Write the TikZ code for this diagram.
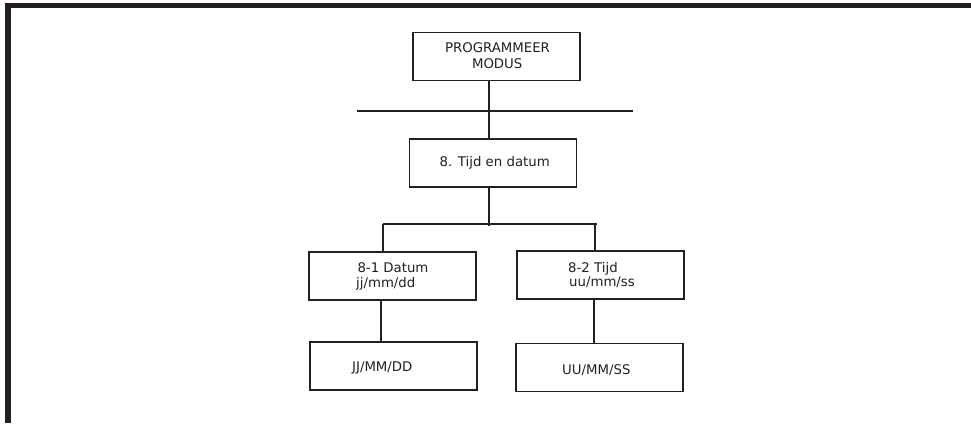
\documentclass[tikz,border=0pt]{standalone}
\usepackage{fontspec}
\setmainfont{DejaVu Sans}
\definecolor{ink}{RGB}{35,31,32}
\begin{document}
\begin{tikzpicture}[x=1pt,y=-1pt,
  every node/.style={font=\fontsize{13.3}{15.6}\selectfont, text=ink},
  box/.style={draw=ink, line width=1.7pt, rectangle, inner sep=0pt,
    minimum width=167pt, minimum height=48pt},
  lbl/.style={inner sep=0pt, anchor=base},
  lblw/.style={inner sep=0pt, anchor=base west},
  wire/.style={draw=ink, line width=1.7pt}]
\useasboundingbox (0,0) rectangle (971,423);
% frame
\fill[ink] (5,3) rectangle (971,7.5);
\fill[ink] (5,3) rectangle (11,423);
% boxes
\node[box] (prog) at (496.5,56.5) {};
\node[box] (tijd) at (493,163) {};
\node[box] (d81) at (392.5,276) {};
\node[box] (t82) at (600.5,275) {};
\node[box] (jj) at (393.5,366) {};
\node[box] (uu) at (599.5,367.5) {};
% texts
\node[lbl] (prog1) at (497.5,52.7) {PROGRAMMEER};
\node[lbl] (prog2) at (497.2,68.3) {MODUS};
\node[lbl] (tijdtxt) at (494.7,166.7) {8. Tijd en datum};
\node[lblw] (d81a) at (357.3,272.3) {8-1 Datum};
\node[lblw] (d81b) at (356,287.3) {jj/mm/dd};
\node[lblw] (t82a) at (568,272) {8-2 Tijd};
\node[lblw] (t82b) at (569,286.7) {uu/mm/ss};
\node[lbl] (jjtxt) at (382.3,371.7) {JJ/MM/DD};
\node[lbl] (uutxt) at (596.3,374) {UU/MM/SS};
% connector coordinates
\coordinate (h1l) at (357,111);
\coordinate (h1r) at (633,111);
\coordinate (v1) at (489,0);
\coordinate (j2) at (489,226);
\coordinate (h2l) at (383,224);
\coordinate (h2r) at (597,224);
\coordinate (vl) at (383,0);
\coordinate (vr) at (595,0);
\coordinate (vl2) at (381,0);
\coordinate (vr2) at (594,0);
% connectors
\draw[wire] (h1l) -- (h1r);
\draw[wire] (prog.south -| v1) -- (tijd.north -| v1);
\draw[wire] (tijd.south -| j2) -- (j2);
\draw[wire] (h2l) -- (h2r);
\draw[wire] (h2l -| vl) -- (d81.north -| vl);
\draw[wire] (h2r -| vr) -- (t82.north -| vr);
\draw[wire] (d81.south -| vl2) -- (jj.north -| vl2);
\draw[wire] (t82.south -| vr2) -- (uu.north -| vr2);
\end{tikzpicture}
\end{document}
